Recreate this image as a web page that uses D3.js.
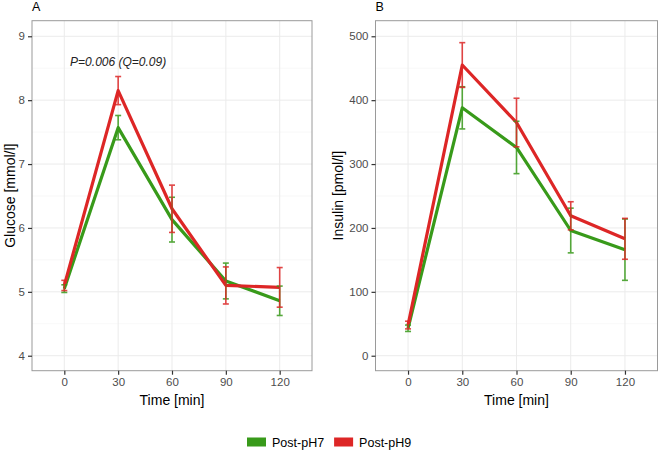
<!DOCTYPE html>
<html><head><meta charset="utf-8">
<script src="https://cdn.jsdelivr.net/npm/d3@7"></script>
<style>body{margin:0;background:#fff;} text{font-family:"Liberation Sans",Arial,sans-serif;}</style>
</head><body><svg id="c" width="660" height="452"></svg>
<script>
const times = [0, 30, 60, 90, 120];
const seriesNames = ["Post-pH7", "Post-pH9"];
const seriesColors = ["#389a1a", "#dd2626"];
const glucosePH7 = [5.05, 7.57, 6.13, 5.17, 4.86];
const glucosePH7Err = [0.06, 0.19, 0.35, 0.28, 0.23];
const glucosePH9 = [5.10, 8.15, 6.30, 5.10, 5.07];
const glucosePH9Err = [0.08, 0.22, 0.37, 0.29, 0.31];
const insulinPH7 = [43, 388, 326, 196, 166];
const insulinPH7Err = [5, 33, 41, 35, 48];
const insulinPH9 = [48, 455, 365, 219, 183];
const insulinPH9Err = [6, 35, 38, 22, 32];
const glucoseTicks = [4, 5, 6, 7, 8, 9];
const insulinTicks = [0, 100, 200, 300, 400, 500];
const annotation = "P=0.006 (Q=0.09)";

const svg = d3.select("#c");

function panel(opts) {
  const g = svg.append("g");
  const x = d3.scaleLinear().domain([-18, 138]).range([opts.left, opts.right]);
  const y = d3.scaleLinear().domain(opts.yDomain).range([opts.bottom, opts.top]);
  const step = opts.ticks[1] - opts.ticks[0];
  const minor = opts.ticks.map(t => t - step / 2).concat([opts.ticks[opts.ticks.length-1] + step/2])
    .filter(v => y(v) > opts.top && y(v) < opts.bottom);
  g.selectAll(".mn").data(minor).join("line")
    .attr("x1", opts.left).attr("x2", opts.right)
    .attr("y1", d => y(d)).attr("y2", d => y(d))
    .attr("stroke", "#f4f4f4").attr("stroke-width", 0.6);
  g.selectAll(".mjy").data(opts.ticks).join("line")
    .attr("x1", opts.left).attr("x2", opts.right)
    .attr("y1", d => y(d)).attr("y2", d => y(d))
    .attr("stroke", "#ebebeb").attr("stroke-width", 1);
  g.selectAll(".mjx").data(times).join("line")
    .attr("y1", opts.top).attr("y2", opts.bottom)
    .attr("x1", d => x(d)).attr("x2", d => x(d))
    .attr("stroke", "#ebebeb").attr("stroke-width", 1);

  const line = d3.line().x((d, i) => x(times[i])).y(d => y(d));
  opts.series.forEach((s, k) => {
    g.append("path").datum(s.vals).attr("d", line)
      .attr("fill", "none").attr("stroke", seriesColors[k]).attr("stroke-width", 3.2)
      .attr("stroke-linejoin", "round");
  });
  opts.series.forEach((s, k) => {
    const eb = g.append("g").attr("stroke", seriesColors[k]).attr("stroke-width", 1.6).attr("opacity", 0.85);
    s.vals.forEach((v, i) => {
      const cx = x(times[i]), lo = y(v - s.err[i]), hi = y(v + s.err[i]);
      eb.append("line").attr("x1", cx).attr("x2", cx).attr("y1", lo).attr("y2", hi);
      eb.append("line").attr("x1", cx - 3).attr("x2", cx + 3).attr("y1", lo).attr("y2", lo);
      eb.append("line").attr("x1", cx - 3).attr("x2", cx + 3).attr("y1", hi).attr("y2", hi);
    });
  });
  g.append("rect").attr("x", opts.left).attr("y", opts.top)
    .attr("width", opts.right - opts.left).attr("height", opts.bottom - opts.top)
    .attr("fill", "none").attr("stroke", "#9a9a9a").attr("stroke-width", 1);

  const xAxis = d3.axisBottom(x).tickValues(times).tickFormat(d3.format("d")).tickSize(4).tickPadding(3);
  const xa = g.append("g").attr("transform", `translate(0,${opts.bottom})`).call(xAxis);
  const yAxis = d3.axisLeft(y).tickValues(opts.ticks).tickFormat(d3.format("d")).tickSize(4).tickPadding(3);
  const ya = g.append("g").attr("transform", `translate(${opts.left},0)`).call(yAxis);
  [xa, ya].forEach(a => {
    a.select(".domain").remove();
    a.selectAll(".tick line").attr("stroke", "#333").attr("stroke-width", 1.2);
    a.selectAll(".tick text").attr("fill", "#4d4d4d").attr("font-size", 11.5)
      .style("font-family", '"Liberation Sans",Arial,sans-serif');
  });
  g.append("text").attr("x", (opts.left + opts.right) / 2).attr("y", 405)
    .attr("text-anchor", "middle").attr("font-size", 14).text("Time [min]");
  g.append("text").attr("transform", `translate(${opts.ytitleX},${(opts.top + opts.bottom) / 2}) rotate(-90)`)
    .attr("text-anchor", "middle").attr("font-size", 14).text(opts.ytitle);
  g.append("text").attr("x", opts.left).attr("y", 11).attr("font-size", 12.5).text(opts.label);
  return {x, y, g};
}

const A = panel({left: 32, right: 312, top: 20.7, bottom: 370.7, yDomain: [4 - 15/64, 9 + 15.6/64],
  ticks: glucoseTicks, ytitle: "Glucose [mmol/l]", ytitleX: 15, label: "A",
  series: [{vals: glucosePH7, err: glucosePH7Err}, {vals: glucosePH9, err: glucosePH9Err}]});
A.g.append("text").attr("x", A.x(30)).attr("y", A.y(8.6) + 4).attr("text-anchor", "middle")
  .attr("font-size", 12).attr("font-style", "italic").attr("fill", "#222").text(annotation);

panel({left: 375.5, right: 657.5, top: 20.7, bottom: 370.7, yDomain: [-15/0.64, 500 + 15.6/0.64],
  ticks: insulinTicks, ytitle: "Insulin [pmol/l]", ytitleX: 343, label: "B",
  series: [{vals: insulinPH7, err: insulinPH7Err}, {vals: insulinPH9, err: insulinPH9Err}]});

const lg = svg.append("g");
let lx = 247;
seriesNames.forEach((n, k) => {
  lg.append("rect").attr("x", lx).attr("y", 437.5).attr("width", 19).attr("height", 9).attr("fill", seriesColors[k]);
  const t = lg.append("text").attr("x", lx + 25).attr("y", 446.5).attr("font-size", 12.5).text(n);
  lx += 25 + t.node().getComputedTextLength() + 10;
});
</script></body></html>
